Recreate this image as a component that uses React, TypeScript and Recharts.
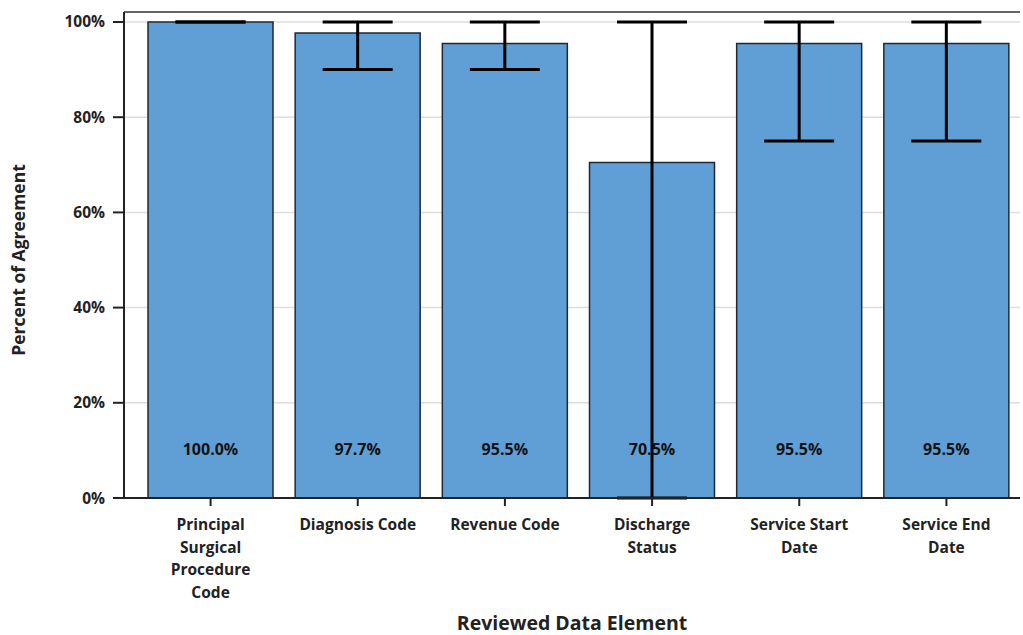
import React from "react";
import { BarChart, Bar, XAxis, YAxis, CartesianGrid, ErrorBar, LabelList, ReferenceLine } from "recharts";

const categories = [
  "Principal\nSurgical\nProcedure\nCode",
  "Diagnosis Code",
  "Revenue Code",
  "Discharge\nStatus",
  "Service Start\nDate",
  "Service End\nDate",
];
const agreement = [100.0, 97.7, 95.5, 70.5, 95.5, 95.5];
const lowerBound = [100, 90, 90, 0, 75, 75];
const upperBound = [100, 100, 100, 100, 100, 100];
const yTicks = [0, 20, 40, 60, 80, 100];
const yMax = 102.1;

const data = categories.map((c, i) => ({
  name: c,
  value: agreement[i],
  err: [agreement[i] - lowerBound[i], upperBound[i] - agreement[i]],
}));

const FONT = "'Open Sans', sans-serif";

const XTick = (props: any) => {
  const { x, y, payload } = props;
  const lines = String(payload.value).split("\n");
  return (
    <g transform={`translate(${x},${y})`}>
      <text textAnchor="middle" fontFamily={FONT} fontWeight={700} fontSize={15.5} fill="#222">
        {lines.map((l: string, i: number) => (
          <tspan key={i} x={0} y={22 + i * 22.5}>{l}</tspan>
        ))}
      </text>
    </g>
  );
};

const YTick = (props: any) => {
  const { x, y, payload } = props;
  return (
    <text x={x - 6} y={y} dy={5.5} textAnchor="end" fontFamily={FONT} fontWeight={700} fontSize={15.5} fill="#222">
      {payload.value}%
    </text>
  );
};

const BarLabel = (props: any) => {
  const { x, y, width, height, value } = props;
  return (
    <text x={x + width / 2} y={y + height - 49} dy={5.5} textAnchor="middle" fontFamily={FONT} fontWeight={700} fontSize={16} fill="#111">
      {Number(value).toFixed(1)}%
    </text>
  );
};

export default function App() {
  return (
    <div style={{ position: "absolute", left: 0, top: 0, background: "#fff" }}>
      <BarChart
        width={1023}
        height={635}
        data={data}
        margin={{ top: 12, right: 3, bottom: 0, left: 0 }}
        barSize={125}
      >
        <CartesianGrid vertical={false} stroke="#dedede" strokeWidth={1.5} />
        <ReferenceLine y={yMax} stroke="#666" strokeWidth={2} />
        <XAxis
          dataKey="name"
          interval={0}
          height={137}
          padding={{ left: 13, right: 0 }}
          axisLine={{ stroke: "#222", strokeWidth: 2 }}
          tickLine={{ stroke: "#222", strokeWidth: 2 }}
          tickSize={8}
          tick={<XTick />}
          label={{ value: "Reviewed Data Element", position: "insideBottom", offset: 0, dy: -5, fontFamily: FONT, fontWeight: 700, fontSize: 19.5, fill: "#222" }}
        />
        <YAxis
          domain={[0, yMax]}
          ticks={yTicks}
          width={124}
          allowDataOverflow
          axisLine={{ stroke: "#222", strokeWidth: 2 }}
          tickLine={{ stroke: "#222", strokeWidth: 2 }}
          tickSize={11}
          tick={<YTick />}
          label={{ value: "Percent of Agreement", angle: -90, position: "insideLeft", dx: 14, dy: 5, fontFamily: FONT, fontWeight: 700, fontSize: 17.5, fill: "#222", style: { textAnchor: "middle" } }}
        />
        <Bar dataKey="value" fill="#5f9fd6" stroke="#1e2a33" strokeWidth={1.5} isAnimationActive={false}>
          <LabelList dataKey="value" content={<BarLabel />} />
          <ErrorBar dataKey="err" width={35} stroke="#000" strokeWidth={3} direction="y" />
        </Bar>
      </BarChart>
    </div>
  );
}
